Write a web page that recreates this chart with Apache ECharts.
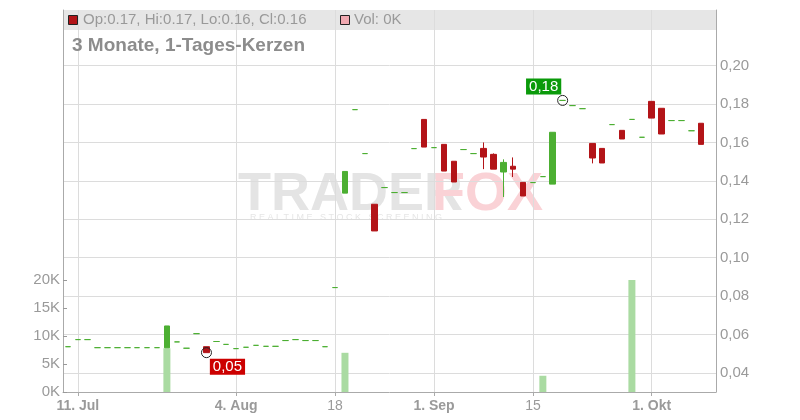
<!DOCTYPE html>
<html>
<head>
<meta charset="utf-8">
<script src="https://cdn.jsdelivr.net/npm/echarts@6/dist/echarts.min.js"></script>
<style>
html,body{margin:0;padding:0;background:#fff;}
#chart{width:800px;height:420px;}
</style>
</head>
<body>
<div id="chart"></div>
<script>
const dates = [
'2025-07-10','2025-07-11','2025-07-14','2025-07-15','2025-07-16','2025-07-17','2025-07-18','2025-07-21','2025-07-22','2025-07-23',
'2025-07-24','2025-07-25','2025-07-28','2025-07-29','2025-07-30','2025-07-31','2025-08-01','2025-08-04','2025-08-05','2025-08-06',
'2025-08-07','2025-08-08','2025-08-11','2025-08-12','2025-08-13','2025-08-14','2025-08-15','2025-08-18','2025-08-19','2025-08-20',
'2025-08-21','2025-08-22','2025-08-25','2025-08-26','2025-08-27','2025-08-28','2025-08-29','2025-09-01','2025-09-02','2025-09-03',
'2025-09-04','2025-09-05','2025-09-08','2025-09-09','2025-09-10','2025-09-11','2025-09-12','2025-09-15','2025-09-16','2025-09-17',
'2025-09-18','2025-09-19','2025-09-22','2025-09-23','2025-09-24','2025-09-25','2025-09-26','2025-09-29','2025-09-30','2025-10-01',
'2025-10-02','2025-10-03','2025-10-06','2025-10-07','2025-10-08','2025-10-09'
];
const opens = [
0.0536,0.0573,0.0573,0.0531,0.0531,0.0531,0.0531,0.0531,0.0531,0.0531,
0.0530,0.0561,0.0528,0.0604,0.0536,0.0563,0.0548,0.0526,0.0533,0.0543,
0.0538,0.0538,0.0568,0.0573,0.0568,0.0568,0.0536,0.0844,0.1336,0.1771,
0.1542,0.1278,0.1365,0.1339,0.1339,0.1568,0.1720,0.1573,0.1590,0.1502,
0.1563,0.1542,0.1569,0.1538,0.1446,0.1476,0.1392,0.1391,0.1422,0.1383,
0.1819,0.1792,0.1776,0.1595,0.1569,0.1693,0.1663,0.1720,0.1627,0.1814,
0.1778,0.1714,0.1714,0.1661,0.1700,null
];
const closes = [
0.0536,0.0573,0.0573,0.0531,0.0531,0.0531,0.0531,0.0531,0.0531,0.0531,
0.0644,0.0561,0.0528,0.0604,0.0505,0.0563,0.0548,0.0526,0.0533,0.0543,
0.0538,0.0538,0.0568,0.0573,0.0568,0.0568,0.0536,0.0844,0.1449,0.1771,
0.1542,0.1139,0.1365,0.1339,0.1339,0.1568,0.1576,0.1573,0.1451,0.1394,
0.1563,0.1542,0.1524,0.1461,0.1496,0.1461,0.1321,0.1391,0.1422,0.1653,
0.1819,0.1792,0.1776,0.1519,0.1493,0.1693,0.1618,0.1720,0.1627,0.1727,
0.1644,0.1714,0.1714,0.1661,0.1590,null
];
const lows = [
0.0536,0.0573,0.0573,0.0531,0.0531,0.0531,0.0531,0.0531,0.0531,0.0531,
0.0530,0.0561,0.0528,0.0604,0.0505,0.0563,0.0548,0.0526,0.0533,0.0543,
0.0538,0.0538,0.0568,0.0573,0.0568,0.0568,0.0536,0.0844,0.1336,0.1771,
0.1542,0.1139,0.1365,0.1339,0.1339,0.1568,0.1576,0.1573,0.1451,0.1394,
0.1563,0.1542,0.1461,0.1461,0.1316,0.1420,0.1321,0.1391,0.1422,0.1383,
0.1819,0.1792,0.1776,0.1491,0.1493,0.1693,0.1618,0.1720,0.1627,0.1727,
0.1644,0.1714,0.1714,0.1661,0.1590,null
];
const highs = [
0.0536,0.0573,0.0573,0.0531,0.0531,0.0531,0.0531,0.0531,0.0531,0.0531,
0.0644,0.0561,0.0528,0.0604,0.0536,0.0563,0.0548,0.0526,0.0533,0.0543,
0.0538,0.0538,0.0568,0.0573,0.0568,0.0568,0.0536,0.0844,0.1449,0.1771,
0.1542,0.1278,0.1365,0.1339,0.1339,0.1568,0.1720,0.1573,0.1590,0.1502,
0.1563,0.1542,0.1600,0.1543,0.1512,0.1522,0.1392,0.1391,0.1422,0.1653,
0.1819,0.1792,0.1776,0.1595,0.1569,0.1693,0.1663,0.1720,0.1627,0.1814,
0.1778,0.1714,0.1714,0.1661,0.1700,null
];
const volumes = [
0,0,0,0,0,0,0,0,0,0,
7800,0,0,0,0,0,0,0,0,0,
0,0,0,0,0,0,0,0,7000,0,
0,0,0,0,0,0,0,0,0,0,
0,0,0,0,0,0,0,0,2900,0,
0,0,0,0,0,0,0,20000,0,0,
0,0,0,0,0,0
];
const tickDates = ['2025-07-11','2025-08-04','2025-08-18','2025-09-01','2025-09-15','2025-10-01'];
const tickLabels = ['11. Jul','4. Aug','18','1. Sep','15','1. Okt'];
const priceTicks = [0.04,0.06,0.08,0.10,0.12,0.14,0.16,0.18,0.20];
const volumeTicks = ['0K','5K','10K','15K','20K'];
const highMark = {date:'2025-09-18', value:0.1819, label:'0,18'};
const lowMark = {date:'2025-07-30', value:0.0505, label:'0,05'};

const UP = '#4caf32', DOWN = '#b31418', GRIDC = '#dcdcdc', AXISC = '#aaaaaa', TXT = '#9a9a9a';
const FONT = '"Liberation Sans", Arial, sans-serif';

const candleData = dates.map((d, i) => {
  if (opens[i] == null) return '-';
  const item = { value: [opens[i], closes[i], lows[i], highs[i]] };
  if (opens[i] === closes[i]) item.itemStyle = { color0: UP, borderColor0: UP, color: UP, borderColor: UP, borderColorDoji: UP };
  return item;
});

const splitColors = [];
for (let k = 0; k <= 20; k++) {
  const v = Math.round((0.03 + k * 0.01) * 100) / 100;
  splitColors.push(priceTicks.some(p => Math.abs(p - v) < 1e-9) ? GRIDC : 'rgba(0,0,0,0)');
}
const isTick = (idx, val) => tickDates.indexOf(val) >= 0;

const last = dates.length - 2;
const fmt = v => v.toFixed(2);
const headerText = 'Op:' + fmt(opens[last]) + ', Hi:' + fmt(highs[last]) + ', Lo:' + fmt(lows[last]) + ', Cl:' + fmt(closes[last]);
const volText = 'Vol: ' + Math.round(volumes[volumes.length - 1] / 1000) + 'K';

const chart = echarts.init(document.getElementById('chart'), null, { renderer: 'canvas' });
chart.setOption({
  animation: false,
  textStyle: { fontFamily: FONT },
  grid: [
    { left: 63, right: 84, top: 10, bottom: 28 },
    { left: 63, right: 84, top: 280, bottom: 28 }
  ],
  xAxis: [
    {
      type: 'category', data: dates, gridIndex: 0, boundaryGap: true,
      axisLine: { show: true, lineStyle: { color: AXISC } },
      axisTick: { show: true, interval: isTick, alignWithLabel: true, length: 4, lineStyle: { color: AXISC } },
      axisLabel: {
        interval: isTick, margin: 7, color: TXT, fontSize: 14, fontFamily: FONT,
        formatter: v => {
          const j = tickDates.indexOf(v);
          if (j < 0) return '';
          const t = tickLabels[j];
          return t.indexOf('.') >= 0 ? '{b|' + t + '}' : '{n|' + t + '}';
        },
        rich: {
          b: { fontWeight: 'bold', fontSize: 14, color: TXT, fontFamily: FONT },
          n: { fontWeight: 'normal', fontSize: 14, color: TXT, fontFamily: FONT }
        }
      },
      splitLine: { show: true, interval: isTick, alignWithLabel: true, lineStyle: { color: GRIDC, width: 1 } }
    },
    { type: 'category', data: dates, gridIndex: 1, boundaryGap: true, show: false }
  ],
  yAxis: [
    {
      type: 'value', gridIndex: 0, position: 'right', min: 0.03, max: 0.229, interval: 0.01,
      axisLine: { show: true, lineStyle: { color: AXISC } },
      axisTick: { show: false },
      axisLabel: {
        margin: 4, color: TXT, fontSize: 15, fontFamily: FONT,
        formatter: v => {
          const r = Math.round(v * 100) / 100;
          return priceTicks.some(p => Math.abs(p - r) < 1e-9) && Math.abs(v - r) < 1e-6 ? r.toFixed(2).replace('.', ',') : '';
        }
      },
      splitLine: { show: true, lineStyle: { color: splitColors, width: 1 } }
    },
    {
      type: 'value', gridIndex: 0, position: 'left', min: 0, max: 1,
      axisLine: { show: true, lineStyle: { color: AXISC } },
      axisTick: { show: false }, axisLabel: { show: false }, splitLine: { show: false }
    },
    {
      type: 'value', gridIndex: 1, position: 'left', min: 0, max: 20000, interval: 5000,
      axisLine: { show: true, lineStyle: { color: AXISC } },
      axisTick: { show: true, inside: true, length: 4, lineStyle: { color: '#999' } },
      axisLabel: { margin: 3, color: TXT, fontSize: 15, fontFamily: FONT, formatter: (v) => volumeTicks[Math.round(v / 5000)] || '' },
      splitLine: { show: false }
    }
  ],
  graphic: [
    { type: 'rect', z: -5, shape: { x: 63, y: 10, width: 653, height: 20 }, style: { fill: '#e6e6e6' } },
    { type: 'rect', z: 10, shape: { x: 68.5, y: 15.5, width: 9, height: 9 }, style: { fill: DOWN, stroke: '#222', lineWidth: 1 } },
    { type: 'text', z: 10, left: 83, top: 12, style: { text: headerText, fill: '#999', font: '15px ' + FONT } },
    { type: 'rect', z: 10, shape: { x: 340.5, y: 15.5, width: 9, height: 9 }, style: { fill: '#f0a8b0', stroke: '#222', lineWidth: 1 } },
    { type: 'text', z: 10, left: 354, top: 12, style: { text: volText, fill: '#999', font: '15px ' + FONT } },
    { type: 'text', z: 10, left: 72, top: 36, style: { text: '3 Monate, 1-Tages-Kerzen', fill: '#8c8c8c', font: 'bold 19px ' + FONT } },
    { type: 'text', z: -3, left: 238, top: 168, style: { text: 'TRADER', fill: '#e4e4e4', font: '900 54px ' + FONT } },
    { type: 'text', z: -3, left: 432, top: 168, style: { text: 'FOX', fill: '#fad2d6', font: '900 54px ' + FONT } },
    { type: 'text', z: -3, left: 250, top: 213, style: { text: 'R E A L T I M E   S T O C K   S C R E E N I N G', fill: '#e6e6e6', font: '9px ' + FONT } }
  ],
  series: [
    {
      type: 'bar', name: 'Vol', xAxisIndex: 1, yAxisIndex: 2, data: volumes,
      barWidth: 7, itemStyle: { color: '#aadba2' }, z: 1, silent: true
    },
    {
      type: 'candlestick', name: 'Kurs', xAxisIndex: 0, yAxisIndex: 0, data: candleData,
      barWidth: 6, z: 3,
      itemStyle: { color: UP, color0: DOWN, borderColor: UP, borderColor0: DOWN, borderColorDoji: UP, borderWidth: 1 },
      markPoint: {
        silent: true,
        symbol: 'circle', symbolSize: 10,
        itemStyle: { color: 'rgba(0,0,0,0)', borderColor: '#222', borderWidth: 1 },
        data: [
          { coord: [highMark.date, highMark.value],
            label: { show: true, position: 'inside', offset: [-19, -14], formatter: highMark.label, color: '#fff', fontSize: 15, fontFamily: FONT, backgroundColor: '#0a9a0a', padding: [1, 3, 0, 3] } },
          { coord: [lowMark.date, lowMark.value],
            label: { show: true, position: 'inside', offset: [21, 14], formatter: lowMark.label, color: '#fff', fontSize: 15, fontFamily: FONT, backgroundColor: '#cc0000', padding: [1, 3, 0, 3] } }
        ]
      }
    }
  ]
});
</script>
</body>
</html>
